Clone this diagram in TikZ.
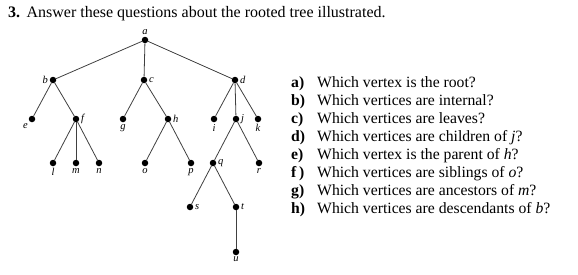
\documentclass[tikz,border=0pt]{standalone}
\usepackage{fontspec}
\setmainfont{Liberation Serif}
\begin{document}
\begin{tikzpicture}[x=1pt,y=-1pt,
  vtx/.style={circle,fill=black,inner sep=0pt,minimum size=6.5pt},
  vlab/.style={font=\fontsize{10.5}{11}\selectfont\itshape,inner sep=1.5pt},
  edge/.style={draw=black!75,line width=0.8pt},
  qtag/.style={anchor=base west,inner sep=0pt,font=\fontsize{15.7}{17}\selectfont\bfseries},
  qtxt/.style={anchor=base west,inner sep=0pt,font=\fontsize{15.7}{17}\selectfont}]
\useasboundingbox (0,0) rectangle (578,274);
% heading
\node[anchor=base west,inner sep=0pt,font=\fontsize{16}{18}\selectfont] (title) at (8,17)
  {\textbf{3.}\hspace{0.4em}Answer these questions about the rooted tree illustrated.};
% vertices
\node[vtx,label={[vlab]above:a}] (a) at (145,40) {};
\node[vtx,label={[vlab]left:b}] (b) at (53,80) {};
\node[vtx,label={[vlab]right:c}] (c) at (144,80) {};
\node[vtx,label={[vlab]right:d}] (d) at (235,80) {};
\node[vtx,label={[vlab]below left:e}] (e) at (32,119) {};
\node[vtx,label={[vlab]right:f}] (f) at (76,119) {};
\node[vtx,label={[vlab]below:g}] (g) at (123,119) {};
\node[vtx,label={[vlab]right:h}] (h) at (168,119) {};
\node[vtx,label={[vlab]below:i}] (i) at (214,119) {};
\node[vtx,label={[vlab]right:j}] (j) at (236,119) {};
\node[vtx,label={[vlab]below:k}] (k) at (258,119) {};
\node[vtx,label={[vlab]below:l}] (l) at (53,163) {};
\node[vtx,label={[vlab]below:m}] (m) at (76,163) {};
\node[vtx,label={[vlab]below:n}] (n) at (99,163) {};
\node[vtx,label={[vlab]below:o}] (o) at (145,163) {};
\node[vtx,label={[vlab]below:p}] (p) at (191,163) {};
\node[vtx,label={[vlab]right:q}] (q) at (213,163) {};
\node[vtx,label={[vlab]below:r}] (r) at (259,163) {};
\node[vtx,label={[vlab]right:s}] (s) at (190,207) {};
\node[vtx,label={[vlab]right:t}] (t) at (236,207) {};
\node[vtx,label={[vlab]below:u}] (u) at (236,252) {};
% edges
\foreach \p/\ch in {a/b,a/c,a/d,b/e,b/f,c/g,c/h,d/i,d/j,d/k,f/l,f/m,f/n,h/o,h/p,j/q,j/r,q/s,q/t,t/u}
  \draw[edge] (\p) -- (\ch);
% questions
\foreach \tag/\txt [count=\r from 0] in {
  a)/{Which vertex is the root?},
  b)/{Which vertices are internal?},
  c)/{Which vertices are leaves?},
  d)/{Which vertices are children of \textit{j}?},
  e)/{Which vertex is the parent of \textit{h}?},
  f\,)/{Which vertices are siblings of \textit{o}?},
  g)/{Which vertices are ancestors of \textit{m}?},
  h)/{Which vertices are descendants of \textit{b}?}} {
  \node[qtag] (tag\r) at (291,87+18*\r) {\tag};
  \node[qtxt] (q\r) at (317,87+18*\r) {\txt};
}
\end{tikzpicture}
\end{document}
